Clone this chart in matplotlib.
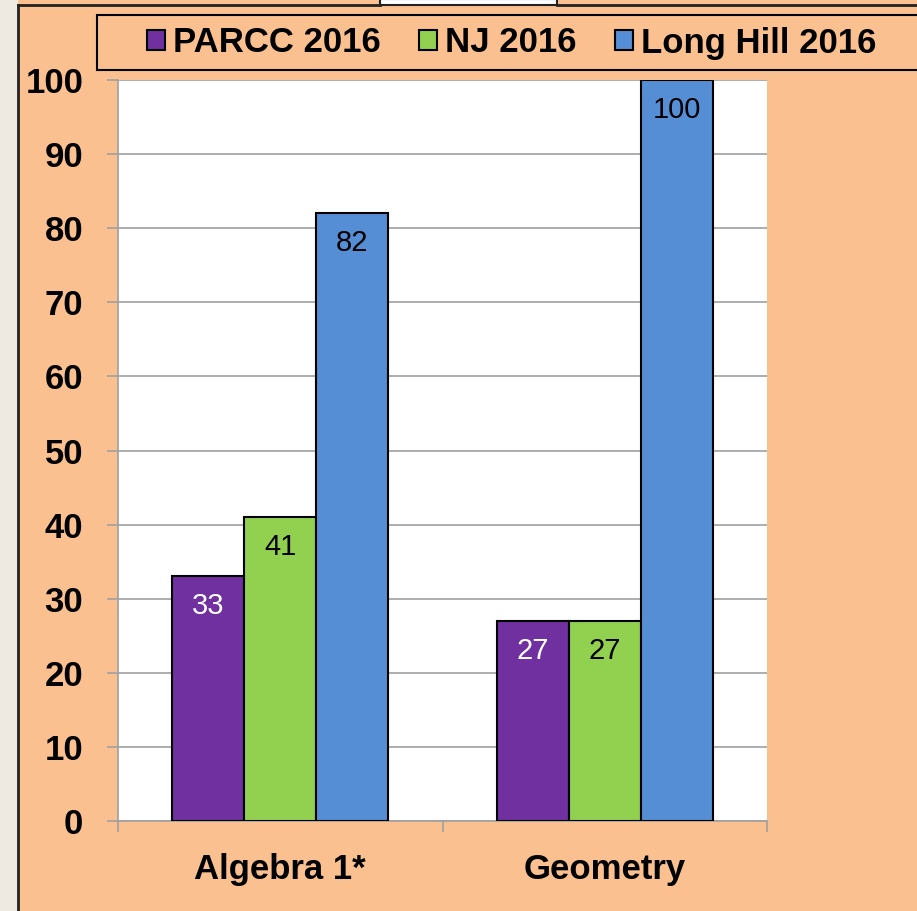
import numpy as np
import matplotlib.pyplot as plt
from matplotlib.patches import Rectangle
from matplotlib.lines import Line2D

categories = ['Algebra 1*', 'Geometry']
series = ['PARCC 2016', 'NJ 2016', 'Long Hill 2016']
values = {
    'PARCC 2016': [33, 27],
    'NJ 2016': [41, 27],
    'Long Hill 2016': [82, 100],
}
colors = ['#7030A0', '#92D050', '#558ED5']
label_colors = ['white', 'black', 'black']

bg = '#FAC090'
font = ['Liberation Sans', 'DejaVu Sans']
plt.rcParams['font.family'] = font

fig = plt.figure(figsize=(9.17, 9.11), dpi=100)
fig.patch.set_facecolor(bg)

# left strip and frame pieces
fig.patches.append(Rectangle((0, 0), 18 / 917, 1, transform=fig.transFigure,
                             facecolor='#EEEAE2', edgecolor='none', zorder=0))
fig.add_artist(Line2D([18 / 917, 18 / 917], [0, 1 - 5 / 911], transform=fig.transFigure,
                      color='#222222', lw=2))
fig.add_artist(Line2D([18 / 917, 380 / 917], [1 - 5 / 911] * 2, transform=fig.transFigure,
                      color='#222222', lw=2))
fig.add_artist(Line2D([557 / 917, 1], [1 - 5 / 911] * 2, transform=fig.transFigure,
                      color='#222222', lw=2))
fig.patches.append(Rectangle((380 / 917, 1 - 5 / 911), 177 / 917, 6 / 911, transform=fig.transFigure,
                             facecolor='white', edgecolor='#222222', lw=1.5, zorder=3))
# legend box
fig.patches.append(Rectangle((97 / 917, 1 - 70 / 911), 830 / 917, 55 / 911, transform=fig.transFigure,
                             facecolor=bg, edgecolor='black', lw=1.5, zorder=2))

ax = fig.add_axes([118 / 917, 90 / 911, 649 / 917, 741 / 911])
ax.set_facecolor('white')

x = np.arange(len(categories))
w = 0.222
for i, s in enumerate(series):
    pos = x + (i - 1) * w
    bars = ax.bar(pos, values[s], w, color=colors[i], edgecolor='black', lw=1.5,
                  label=s, zorder=3)
    for b, v in zip(bars, values[s]):
        ax.text(b.get_x() + b.get_width() / 2, v - 4, str(v), ha='center', va='center',
                fontsize=21, color=label_colors[i], zorder=4)

ax.set_xlim(-0.5, 1.5)
ax.set_ylim(0, 100)
ax.set_yticks(range(0, 101, 10))
ax.yaxis.grid(True, color='#A0A0A0', lw=1.2, zorder=0)
ax.set_axisbelow(True)
for sp in ['top', 'right']:
    ax.spines[sp].set_visible(False)
for sp in ['bottom', 'left']:
    ax.spines[sp].set_color('#A0A0A0')
    ax.spines[sp].set_linewidth(1.2)
ax.tick_params(axis='y', length=8, color='#A0A0A0', width=1.2, pad=17)
ax.set_xticks([-0.5, 0.5, 1.5], minor=True)
ax.set_xticks(x)
ax.set_xticklabels(categories)
ax.tick_params(axis='x', which='major', length=0, pad=23)
ax.tick_params(axis='x', which='minor', length=8, color='#A0A0A0', width=1.2)
for lab in ax.get_yticklabels() + ax.get_xticklabels():
    lab.set_fontweight('bold')
    lab.set_fontsize(25)

leg = fig.legend(loc='center', bbox_to_anchor=(512 / 917, 1 - 43 / 911),
                 bbox_transform=fig.transFigure, ncol=3, frameon=False,
                 prop={'weight': 'bold', 'size': 25},
                 handlelength=0.5, handleheight=0.5, handletextpad=0.25, columnspacing=1.1,
                 borderaxespad=0, borderpad=0)
leg.set_zorder(5)

plt.savefig('out.png', dpi=100, facecolor=bg)
